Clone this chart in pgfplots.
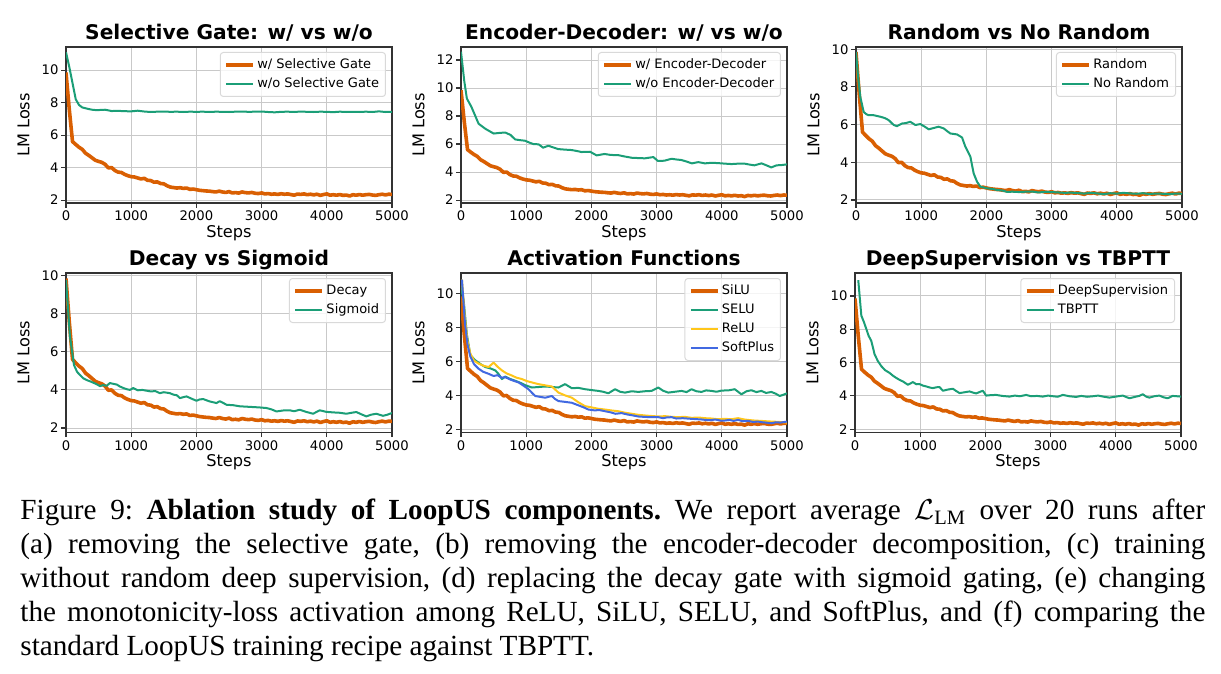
\documentclass[border=0pt]{standalone}
\usepackage{amsmath}
\usepackage{fontspec}
\setmainfont{Liberation Serif}
\newfontfamily\plotfont{DejaVu Sans}
\usepackage{pgfplots}
\usepackage{pgfplotstable}
\pgfplotsset{compat=1.18}

\definecolor{cOrange}{HTML}{D95F02}
\definecolor{cGreen}{HTML}{1B9E77}
\definecolor{cYellow}{HTML}{FFC61A}
\definecolor{cBlue}{HTML}{4169E1}

% shared baseline run (LoopUS default recipe)
\pgfplotstableread{
step loss
0 9.85
50 7.6
100 5.6
150 5.42
200 5.25
250 5.12
300 4.88
350 4.75
400 4.6
450 4.45
500 4.38
550 4.32
600 4.2
650 3.98
700 4.0
750 3.82
800 3.72
850 3.7
900 3.58
950 3.5
1000 3.44
1050 3.42
1100 3.36
1150 3.3
1200 3.34
1250 3.22
1300 3.2
1350 3.1
1400 3.12
1450 3.02
1500 3.0
1550 2.88
1600 2.8
1650 2.77
1700 2.74
1750 2.76
1800 2.72
1850 2.74
1900 2.66
1950 2.68
2000 2.64
2050 2.6
2100 2.58
2150 2.56
2200 2.55
2250 2.52
2300 2.5
2350 2.55
2400 2.5
2450 2.47
2500 2.52
2550 2.44
2600 2.46
2650 2.43
2700 2.5
2750 2.46
2800 2.44
2850 2.47
2900 2.42
2950 2.4
3000 2.44
3050 2.38
3100 2.4
3150 2.36
3200 2.38
3250 2.35
3300 2.39
3350 2.36
3400 2.38
3450 2.34
3500 2.3
3550 2.37
3600 2.35
3650 2.38
3700 2.33
3750 2.36
3800 2.32
3850 2.36
3900 2.29
3950 2.34
4000 2.38
4050 2.3
4100 2.33
4150 2.3
4200 2.34
4250 2.29
4300 2.31
4350 2.25
4400 2.33
4450 2.3
4500 2.34
4550 2.3
4600 2.33
4650 2.35
4700 2.31
4750 2.29
4800 2.33
4850 2.36
4900 2.32
4950 2.36
5000 2.35
}\baseline

\pgfplotstableread{
step loss
0 11.1
50 10.2
100 9.2
150 8.2
200 7.85
250 7.7
300 7.65
350 7.6
400 7.56
450 7.54
500 7.54
550 7.55
600 7.56
650 7.52
700 7.48
800 7.49
900 7.47
1000 7.46
1100 7.5
1200 7.45
1300 7.42
1400 7.44
1500 7.45
1600 7.43
1700 7.44
1800 7.42
1900 7.44
2000 7.43
2100 7.44
2200 7.42
2300 7.44
2400 7.43
2500 7.42
2600 7.44
2700 7.45
2800 7.43
2900 7.44
3000 7.45
3100 7.42
3200 7.4
3300 7.43
3400 7.44
3500 7.42
3600 7.45
3700 7.43
3800 7.42
3900 7.44
4000 7.43
4100 7.41
4200 7.44
4300 7.42
4400 7.43
4500 7.42
4600 7.44
4700 7.42
4800 7.46
4900 7.42
5000 7.43
}\noGate

\pgfplotstableread{
step loss
0 12.6
50 10.5
90 9.25
160 8.65
270 7.45
370 7.1
500 6.75
600 6.8
680 6.82
760 6.65
830 6.33
900 6.28
980 6.24
1050 6.1
1110 6.0
1190 5.98
1260 5.74
1340 5.88
1420 5.75
1490 5.64
1600 5.6
1700 5.57
1780 5.5
1850 5.43
1980 5.45
2080 5.19
2200 5.29
2300 5.22
2410 5.21
2500 5.12
2620 5.02
2720 5.0
2820 4.98
2950 5.07
3020 4.79
3120 4.81
3230 4.95
3300 4.9
3380 4.86
3460 4.75
3540 4.62
3640 4.71
3740 4.62
3840 4.66
3940 4.64
4050 4.6
4150 4.57
4250 4.6
4350 4.6
4430 4.53
4500 4.48
4610 4.62
4700 4.45
4760 4.33
4840 4.48
4920 4.5
5000 4.55
}\noEncDec

\pgfplotstableread{
step loss
0 9.86
30 8.6
66 7.47
118 6.67
160 6.55
194 6.5
271 6.5
320 6.46
373 6.42
440 6.35
501 6.24
578 5.98
629 5.92
706 6.06
760 6.08
833 6.15
910 5.98
987 6.03
1050 5.9
1115 5.75
1190 5.82
1268 5.89
1345 5.8
1400 5.65
1447 5.53
1549 5.48
1626 5.32
1677 4.83
1754 4.3
1805 3.41
1856 2.97
1907 2.71
2009 2.62
2100 2.58
2163 2.53
2250 2.5
2316 2.43
2400 2.44
2500 2.42
2600 2.44
2700 2.45
2800 2.4
2900 2.43
3000 2.42
3100 2.4
3200 2.38
3300 2.39
3400 2.37
3500 2.34
3600 2.38
3700 2.35
3800 2.31
3900 2.36
4000 2.34
4100 2.38
4200 2.35
4300 2.33
4400 2.36
4500 2.32
4600 2.34
4700 2.33
4800 2.31
4900 2.34
5000 2.33
}\noRandom

\pgfplotstableread{
step loss
0 9.77
30 8.3
61 6.8
123 5.3
170 4.95
215 4.78
270 4.6
317 4.52
370 4.45
419 4.38
470 4.3
521 4.2
570 4.25
623 4.22
674 4.36
725 4.32
780 4.28
827 4.18
880 4.1
930 4.04
980 4.0
1032 4.1
1100 3.98
1170 4.0
1236 3.96
1300 3.92
1370 3.94
1440 3.83
1500 3.88
1593 3.83
1650 3.75
1700 3.72
1747 3.57
1800 3.62
1849 3.66
1920 3.55
2002 3.43
2050 3.5
2104 3.52
2200 3.4
2308 3.31
2359 3.41
2410 3.32
2462 3.22
2560 3.2
2666 3.14
2770 3.12
2870 3.1
2970 3.08
3075 3.05
3150 2.98
3228 2.87
3330 2.92
3432 2.93
3500 2.88
3585 2.96
3680 2.85
3790 2.75
3892 2.93
3990 2.85
4096 2.82
4200 2.8
4300 2.75
4380 2.8
4453 2.84
4530 2.72
4607 2.61
4680 2.7
4760 2.75
4862 2.64
4930 2.7
5000 2.79
}\sigmoidGate

\pgfplotstableread{
step loss
0 10.5
20 10.0
41 9.6
90 7.6
143 6.38
219 6.08
300 5.85
372 5.68
450 5.6
526 5.48
580 5.25
628 4.97
679 5.12
750 4.98
832 4.87
910 4.75
985 4.61
1087 4.47
1190 4.5
1291 4.53
1400 4.5
1495 4.47
1597 4.67
1699 4.43
1800 4.45
1903 4.37
2000 4.32
2107 4.27
2180 4.22
2260 4.13
2362 4.37
2440 4.22
2515 4.17
2620 4.25
2719 4.21
2823 4.25
2923 4.27
3026 4.47
3100 4.28
3179 4.17
3280 4.22
3383 4.27
3460 4.2
3536 4.37
3610 4.25
3689 4.21
3760 4.3
3842 4.27
3920 4.22
3995 4.29
4100 4.3
4199 4.37
4301 4.07
4380 4.25
4454 4.31
4530 4.2
4607 4.27
4680 4.15
4760 4.21
4830 4.1
4888 3.97
4950 4.05
5000 4.13
}\selu

\pgfplotstableread{
step loss
0 10.7
15 10.8
60 8.6
100 7.2
143 6.48
200 6.05
270 5.88
350 5.75
423 5.68
500 5.94
560 5.7
628 5.48
700 5.3
781 5.18
850 5.05
934 4.97
1010 4.85
1087 4.77
1189 4.67
1290 4.6
1393 4.53
1495 4.17
1600 4.0
1699 3.87
1800 3.6
1903 3.37
2000 3.3
2100 3.22
2209 3.17
2300 3.12
2413 3.07
2520 2.98
2620 2.92
2719 2.86
2820 2.82
2920 2.79
3026 2.76
3130 2.78
3230 2.74
3332 2.72
3430 2.74
3540 2.68
3640 2.7
3740 2.66
3840 2.64
3940 2.6
4046 2.62
4150 2.6
4250 2.66
4350 2.58
4420 2.55
4505 2.52
4600 2.5
4680 2.48
4760 2.46
4880 2.44
5000 2.4
}\relu

\pgfplotstableread{
step loss
0 10.5
15 10.8
60 8.3
100 7.0
143 6.3
200 5.85
270 5.58
340 5.4
423 5.28
500 5.15
560 5.2
620 5.05
679 5.08
750 4.95
820 4.85
883 4.77
950 4.6
1036 4.37
1090 4.15
1138 3.97
1210 3.92
1291 3.87
1393 3.97
1440 3.8
1495 3.67
1600 3.62
1699 3.57
1800 3.42
1880 3.3
1954 3.17
2050 3.12
2120 3.14
2209 3.07
2300 3.0
2370 2.92
2464 2.96
2550 2.88
2640 2.82
2719 2.76
2800 2.74
2900 2.72
3026 2.72
3100 2.66
3150 2.7
3230 2.72
3300 2.64
3400 2.66
3536 2.62
3620 2.6
3700 2.58
3740 2.56
3820 2.54
3900 2.58
3980 2.52
4046 2.52
4120 2.56
4180 2.5
4250 2.56
4320 2.48
4400 2.5
4480 2.44
4556 2.46
4620 2.42
4680 2.4
4760 2.36
4830 2.42
4900 2.4
5000 2.46
}\softplus

\pgfplotstableread{
step loss
50 10.95
97 8.82
140 8.4
174 8.01
210 7.6
250 7.3
301 6.49
350 6.1
403 5.79
460 5.55
531 5.38
580 5.22
633 5.08
690 4.95
735 4.87
812 4.67
850 4.75
889 4.83
940 4.7
991 4.71
1040 4.62
1093 4.57
1150 4.5
1195 4.47
1250 4.52
1297 4.53
1348 4.31
1420 4.38
1501 4.43
1550 4.3
1604 4.17
1680 4.22
1757 4.27
1810 4.2
1859 4.15
1920 4.25
1961 4.31
2012 4.02
2090 4.05
2165 4.06
2260 4.0
2370 3.96
2450 4.02
2530 3.98
2625 4.06
2700 3.98
2790 4.0
2880 3.96
2960 4.02
3040 3.98
3110 3.95
3187 4.06
3290 3.98
3391 3.94
3470 4.0
3560 3.95
3647 3.98
3730 4.02
3820 3.95
3902 3.9
4000 3.96
4106 4.02
4208 3.86
4300 3.95
4360 4.0
4413 4.1
4470 3.95
4515 3.9
4590 3.98
4668 4.02
4730 3.92
4796 3.86
4872 4.0
4940 3.98
5000 3.96
}\tbptt

\pgfplotsset{
  lossax/.style={
    scale only axis, width=163pt,
    xmin=0, xmax=5000, xtick={0,1000,...,5000},
    ytick={2,4,...,12},
    xtick pos=bottom, ytick pos=left,
    grid=major, grid style={line width=0.5pt, color=gray!42},
    axis line style={line width=0.55pt, color=black!80},
    tick align=outside, major tick length=2.4pt,
    tick style={line width=0.55pt, color=black!80},
    /pgf/number format/assume math mode=true,
    /pgf/number format/1000 sep={},
    scaled x ticks=false,
    tick label style={font=\plotfont\fontsize{6.6}{8}\selectfont, color=black},
    xticklabel style={yshift=2pt},
    yticklabel style={xshift=2.2pt},
    label style={font=\plotfont\fontsize{8.1}{9.5}\selectfont},
    every axis title/.style={at={(0.5,1)}, anchor=base, yshift=3.6pt,
      font=\plotfont\bfseries\fontsize{10.1}{12}\selectfont},
    every axis x label/.style={at={(0.5,0)}, anchor=base, yshift=-17pt,
      font=\plotfont\fontsize{8.1}{9.5}\selectfont},
    xlabel={Steps}, ylabel={LM Loss},
    ylabel style={yshift=-0.8pt},
    legend cell align=left,
    legend style={at={(1,1)}, anchor=north east, xshift=-3pt, yshift=-2.5pt,
      draw=gray!30, line width=0.5pt, rounded corners=1.5pt,
      fill=white, fill opacity=0.8, text opacity=1,
      font=\plotfont\fontsize{6.5}{8}\selectfont,
      inner sep=2pt, row sep=1pt,
      nodes={inner sep=1.2pt, text height=4.9pt, text depth=1.2pt}},
    legend image code/.code={\draw[#1] (0pt,0pt) -- (13.5pt,0pt);},
    every axis plot/.append style={line join=round},
  },
  base/.style={color=cOrange, line width=1.8pt},
  alt/.style={color=cGreen, line width=1.0pt},
}

\begin{document}
\begin{tikzpicture}
\useasboundingbox (0pt,0pt) rectangle (610.5pt,-337pt);

% (a) selective gate
\begin{axis}[lossax, at={(33pt,-23.5pt)}, anchor=north west, height=78pt,
  ymin=1.82, ymax=11.42, title={Selective Gate: w/ vs w/o}]
\addplot[base] table[x=step,y=loss] {\baseline};
\addlegendentry{w/ Selective Gate}
\addplot[alt] table[x=step,y=loss] {\noGate};
\addlegendentry{w/o Selective Gate}
\end{axis}

% (b) encoder-decoder
\begin{axis}[lossax, at={(230.5pt,-23.5pt)}, anchor=north west, height=78pt,
  ymin=1.79, ymax=12.93, title={Encoder-Decoder: w/ vs w/o}]
\addplot[base] table[x=step,y=loss] {\baseline};
\addlegendentry{w/ Encoder-Decoder}
\addplot[alt] table[x=step,y=loss] {\noEncDec};
\addlegendentry{w/o Encoder-Decoder}
\end{axis}

% (c) random deep supervision
\begin{axis}[lossax, at={(428pt,-23.5pt)}, anchor=north west, height=78pt,
  ymin=1.84, ymax=10.12, title={Random vs No Random}]
\addplot[base] table[x=step,y=loss] {\baseline};
\addlegendentry{Random}
\addplot[alt] table[x=step,y=loss] {\noRandom};
\addlegendentry{No Random}
\end{axis}

% (d) decay vs sigmoid gate
\begin{axis}[lossax, at={(33pt,-136.5pt)}, anchor=north west, height=79.7pt,
  ymin=1.77, ymax=10.14, title={Decay vs Sigmoid}]
\addplot[base] table[x=step,y=loss] {\baseline};
\addlegendentry{Decay}
\addplot[alt] table[x=step,y=loss] {\sigmoidGate};
\addlegendentry{Sigmoid}
\end{axis}

% (e) monotonicity-loss activation
\begin{axis}[lossax, at={(230.5pt,-136.5pt)}, anchor=north west, height=79.7pt,
  ymin=1.82, ymax=11.23, title={Activation Functions}]
\addplot[base] table[x=step,y=loss] {\baseline};
\addlegendentry{SiLU}
\addplot[alt] table[x=step,y=loss] {\selu};
\addlegendentry{SELU}
\addplot[color=cYellow, line width=1.0pt] table[x=step,y=loss] {\relu};
\addlegendentry{ReLU}
\addplot[color=cBlue, line width=1.0pt] table[x=step,y=loss] {\softplus};
\addlegendentry{SoftPlus}
\end{axis}

% (f) deep supervision vs TBPTT
\begin{axis}[lossax, at={(427.5pt,-136.5pt)}, anchor=north west, height=79.7pt,
  ymin=1.81, ymax=11.38, title={DeepSupervision vs TBPTT}]
\addplot[base] table[x=step,y=loss] {\baseline};
\addlegendentry{DeepSupervision}
\addplot[alt] table[x=step,y=loss] {\tbptt};
\addlegendentry{TBPTT}
\end{axis}

\node[anchor=north west, inner sep=0pt, text width=592.5pt, align=justify,
  font=\fontsize{14.6}{17}\selectfont] at (10pt,-249.5pt)
  {\frenchspacing Figure 9: \textbf{Ablation study of LoopUS components.} We report average $\mathcal{L}_{\text{LM}}$ over 20 runs after\linebreak
   (a) removing the selective gate, (b) removing the encoder-decoder decomposition, (c) training\linebreak
   without random deep supervision, (d) replacing the decay gate with sigmoid gating, (e) changing\linebreak
   the monotonicity-loss activation among ReLU, SiLU, SELU, and SoftPlus, and (f) comparing the\linebreak
   standard LoopUS training recipe against TBPTT.};
\end{tikzpicture}
\end{document}
